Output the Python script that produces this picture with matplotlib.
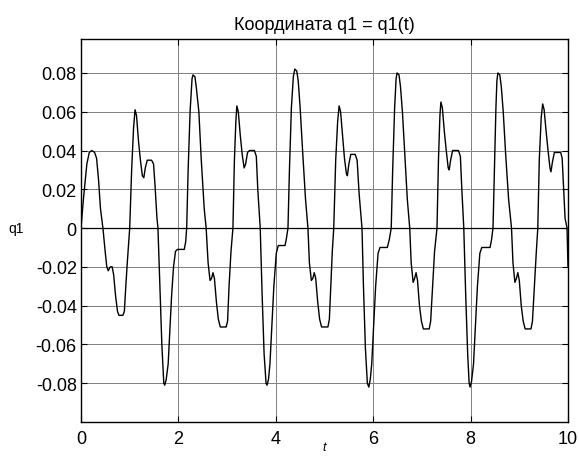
import numpy as np
import matplotlib
matplotlib.use("Agg")
import matplotlib.pyplot as plt

plt.rcParams['font.family'] = ['Liberation Sans', 'DejaVu Sans']

# q1(t)
t = [0.00, 0.05, 0.12, 0.17, 0.22, 0.28, 0.32, 0.36, 0.40, 0.45,
     0.50, 0.53, 0.56, 0.60, 0.64, 0.67, 0.71, 0.75, 0.78, 0.86,
     0.89, 0.92, 0.95, 1.00,
     1.04, 1.08, 1.11, 1.14, 1.18, 1.22, 1.26, 1.29, 1.32, 1.36,
     1.45, 1.49, 1.52, 1.56, 1.58, 1.62, 1.66, 1.70, 1.72, 1.75,
     1.79, 1.82, 1.86, 1.90, 1.94, 1.98, 2.12, 2.15, 2.17,
     2.20, 2.24, 2.28, 2.30, 2.34, 2.37, 2.42, 2.47, 2.53, 2.57,
     2.61, 2.65, 2.68, 2.71, 2.74, 2.78, 2.82, 2.86, 2.98, 3.01,
     3.04, 3.08, 3.12,
     3.15, 3.18, 3.20, 3.23, 3.27, 3.31, 3.35, 3.38, 3.42, 3.46,
     3.56, 3.60, 3.63, 3.68, 3.72, 3.76, 3.80, 3.82, 3.85, 3.88,
     3.92, 3.96, 4.01, 4.05, 4.19, 4.22, 4.25,
     4.28, 4.32, 4.36, 4.39, 4.43, 4.46, 4.50, 4.55, 4.61, 4.66,
     4.69, 4.73, 4.76, 4.79, 4.82, 4.86, 4.90, 4.94, 5.07, 5.10,
     5.13, 5.16, 5.19,
     5.23, 5.27, 5.30, 5.33, 5.37, 5.41, 5.45, 5.47, 5.50, 5.54,
     5.63, 5.67, 5.71, 5.77, 5.80, 5.84, 5.88, 5.91, 5.94, 5.97,
     6.01, 6.05, 6.10, 6.14, 6.29, 6.33, 6.37,
     6.40, 6.44, 6.47, 6.49, 6.53, 6.56, 6.60, 6.65, 6.70, 6.75,
     6.78, 6.82, 6.85, 6.88, 6.91, 6.95, 6.99, 7.03, 7.15, 7.18,
     7.22, 7.26, 7.31,
     7.34, 7.37, 7.39, 7.42, 7.46, 7.50, 7.54, 7.56, 7.59, 7.63,
     7.75, 7.79, 7.82, 7.86, 7.90, 7.94, 7.97, 7.99, 8.02, 8.06,
     8.10, 8.14, 8.19, 8.23, 8.40, 8.43, 8.46,
     8.49, 8.52, 8.54, 8.56, 8.60, 8.63, 8.67, 8.72, 8.78, 8.84,
     8.87, 8.91, 8.94, 8.97, 9.00, 9.04, 9.08, 9.12, 9.24, 9.27,
     9.31, 9.35, 9.38,
     9.41, 9.45, 9.48, 9.51, 9.55, 9.59, 9.63, 9.65, 9.68, 9.72,
     9.85, 9.88, 9.91, 9.94, 9.98, 10.00]

q1 = [0.000, 0.015, 0.033, 0.039, 0.040, 0.039, 0.036, 0.025, 0.010, 0.000,
      -0.013, -0.020, -0.022, -0.020, -0.020, -0.024, -0.035, -0.043, -0.045, -0.045,
      -0.043, -0.030, -0.018, 0.000,
      0.030, 0.052, 0.061, 0.058, 0.045, 0.035, 0.027, 0.026, 0.031, 0.035,
      0.035, 0.033, 0.022, 0.005, 0.000, -0.030, -0.060, -0.080, -0.081, -0.078,
      -0.070, -0.055, -0.035, -0.020, -0.012, -0.011, -0.011, -0.007, 0.000,
      0.030, 0.060, 0.077, 0.079, 0.078, 0.072, 0.060, 0.035, 0.010, 0.000,
      -0.018, -0.027, -0.026, -0.023, -0.026, -0.038, -0.047, -0.051, -0.051, -0.048,
      -0.030, -0.012, 0.000,
      0.035, 0.055, 0.063, 0.060, 0.048, 0.038, 0.031, 0.033, 0.039, 0.040,
      0.040, 0.037, 0.020, 0.000, -0.035, -0.065, -0.080, -0.081, -0.078, -0.070,
      -0.050, -0.030, -0.013, -0.009, -0.009, -0.005, 0.000,
      0.030, 0.062, 0.078, 0.082, 0.081, 0.076, 0.062, 0.040, 0.015, 0.000,
      -0.018, -0.027, -0.026, -0.023, -0.026, -0.038, -0.047, -0.051, -0.051, -0.047,
      -0.030, -0.012, 0.000,
      0.035, 0.055, 0.063, 0.060, 0.048, 0.036, 0.028, 0.027, 0.033, 0.038,
      0.038, 0.035, 0.018, 0.000, -0.030, -0.062, -0.080, -0.082, -0.078, -0.070,
      -0.050, -0.030, -0.013, -0.010, -0.010, -0.006, 0.000,
      0.030, 0.062, 0.077, 0.080, 0.079, 0.073, 0.060, 0.038, 0.015, 0.000,
      -0.018, -0.028, -0.026, -0.023, -0.027, -0.040, -0.048, -0.052, -0.052, -0.048,
      -0.030, -0.012, 0.000,
      0.035, 0.058, 0.065, 0.062, 0.050, 0.040, 0.031, 0.030, 0.035, 0.040,
      0.040, 0.037, 0.020, 0.000, -0.035, -0.065, -0.080, -0.082, -0.079, -0.070,
      -0.050, -0.030, -0.013, -0.010, -0.010, -0.006, 0.000,
      0.030, 0.062, 0.076, 0.080, 0.079, 0.073, 0.060, 0.038, 0.015, 0.000,
      -0.018, -0.028, -0.026, -0.023, -0.027, -0.040, -0.048, -0.052, -0.052, -0.048,
      -0.030, -0.012, 0.000,
      0.035, 0.057, 0.064, 0.061, 0.050, 0.040, 0.031, 0.029, 0.034, 0.039,
      0.039, 0.036, 0.020, 0.005, 0.000, -0.020]

xticks = [0, 2, 4, 6, 8, 10]
yticks = [-0.08, -0.06, -0.04, -0.02, 0, 0.02, 0.04, 0.06, 0.08]
yticklabels = ['-0.08', '-0.06', '-0.04', '-0.02', '0', '0.02', '0.04', '0.06', '0.08']

fig = plt.figure(figsize=(5.79, 4.60), dpi=100)
ax = fig.add_axes([81/579, 1 - 423/460, 487/579, 383/460])

ax.plot(t, q1, color='black', linewidth=1.0, zorder=3)
ax.axhline(0, color='black', linewidth=0.9, zorder=2)

ax.set_xlim(0, 10)
ax.set_ylim(-0.1, 0.0975)
ax.set_xticks(xticks)
ax.set_yticks(yticks)
ax.set_yticklabels(yticklabels)
ax.grid(True, color='#808080', linewidth=0.7, linestyle='-')
ax.set_axisbelow(True)

ax.tick_params(direction='in', length=4, width=0.8, top=True, right=True,
               labelsize=13, pad=3)
ax.tick_params(axis='x', pad=6)
for s in ax.spines.values():
    s.set_linewidth(1.0)

ax.set_title('Координата q1 = q1(t)', fontsize=13, pad=7)
ax.set_ylabel('q1', fontsize=10, rotation=0, va='center', ha='center')
ax.yaxis.set_label_coords(-0.133, 0.506)
ax.set_xlabel('t', fontsize=9, style='italic', va='top')
ax.xaxis.set_label_coords(0.5, -0.05)

fig.savefig('out.png', dpi=100)
